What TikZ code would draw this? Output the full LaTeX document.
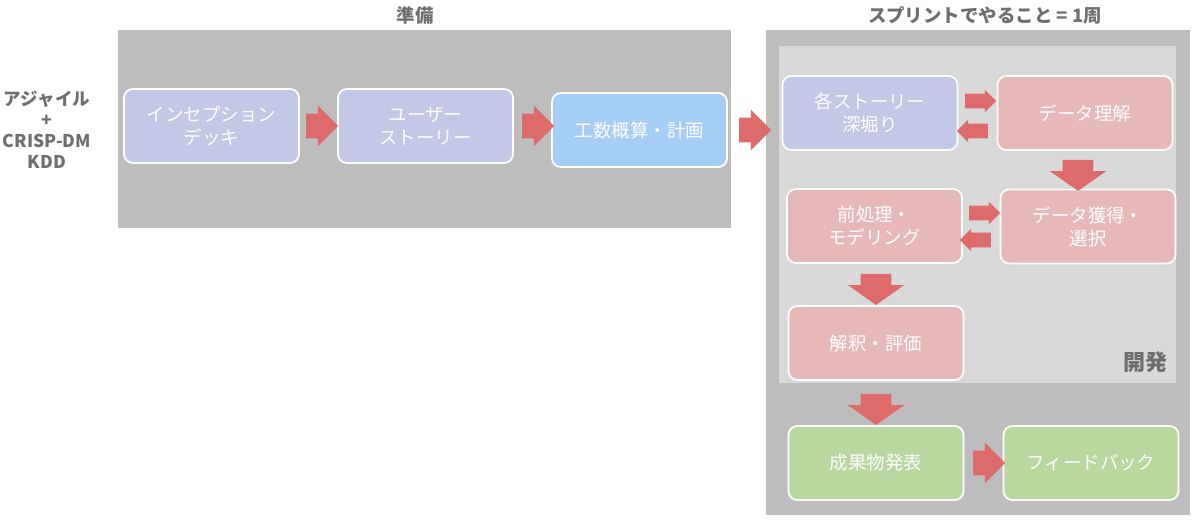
\documentclass[tikz,border=0pt]{standalone}
\usepackage{fontspec}
\newfontfamily\cjk{Noto Sans CJK JP}
\usetikzlibrary{shapes.arrows}
\definecolor{pgray}{HTML}{BDBDBD}
\definecolor{lgray}{HTML}{D9D9D9}
\definecolor{lav}{HTML}{C2C8E6}
\definecolor{lblue}{HTML}{A6CDF5}
\definecolor{pink}{HTML}{E6B8B8}
\definecolor{lgreen}{HTML}{B9D8A0}
\definecolor{ared}{HTML}{DE6B6B}
\definecolor{tgray}{HTML}{6E6E6E}
\begin{document}
\begin{tikzpicture}[x=0.02cm,y=-0.02cm,font=\cjk\fontsize{10.5}{13}\selectfont,
 box/.style={draw=white,line width=1pt,rounded corners=5pt,minimum width=3.5cm,minimum height=1.48cm,text=white,align=center,inner sep=0pt},
 fat/.style={single arrow,fill=ared,draw=none,minimum height=0.64cm,inner xsep=0pt,inner ysep=0.24cm,single arrow head extend=0.16cm,single arrow tip angle=90},
 sm/.style={fat,minimum height=0.62cm,inner ysep=0.14cm,single arrow head extend=0.08cm},
 dn/.style={single arrow,fill=ared,draw=none,minimum height=0.62cm,inner ysep=0pt,inner xsep=0.3cm,single arrow head extend=0.26cm,shape border rotate=270,single arrow tip angle=110},
 ttl/.style={text=tgray,font=\cjk\bfseries\fontsize{10.5}{12}\selectfont,align=center}]
\useasboundingbox (0,0) rectangle (1200,521);
\fill[pgray] (118,30) rectangle (731,228);
\fill[pgray] (766,30) rectangle (1190,515);
\fill[lgray] (779,46) rectangle (1176,383);
\node[ttl] (t1) at (415,15) {準備};
\node[ttl] (t2) at (985,15) {スプリントでやること = 1周};
\node[ttl,font=\cjk\bfseries\fontsize{12.5}{14}\selectfont] (dev) at (1145,362) {開発};
\node[ttl,font=\cjk\bfseries\fontsize{10}{12}\selectfont] (left) at (47,130) {アジャイル\\+\\CRISP-DM\\KDD};
\node[box,fill=lav] (a) at (211.5,126) {インセプション\\デッキ};
\node[box,fill=lav] (b) at (425.5,126) {ユーザー\\ストーリー};
\node[box,fill=lblue] (c) at (639.5,130) {工数概算・計画};
\node[box,fill=lav] (d) at (870,113) {各ストーリー\\深堀り};
\node[box,fill=pink] (e) at (1085,113) {データ理解};
\node[box,fill=pink] (f) at (874.5,226) {前処理・\\モデリング};
\node[box,fill=pink] (g) at (1088,226.5) {データ獲得・\\選択};
\node[box,fill=pink] (h) at (876,343) {解釈・評価};
\node[box,fill=lgreen] (i) at (876,463) {成果物発表};
\node[box,fill=lgreen] (j) at (1091,463) {フィードバック};
\node[fat] (ab) at (316,126) {};
\node[fat] (bc) at (532,126) {};
\node[fat] (cd) at (749,130) {};
\node[sm] (de) at (977,101) {};
\node[sm,shape border rotate=180] (ed) at (976,131) {};
\node[dn] (eg) at (1078,170) {};
\node[sm] (fg) at (981,213) {};
\node[sm,shape border rotate=180] (gf) at (979,240) {};
\node[dn] (fh) at (876,284) {};
\node[dn] (hi) at (876,404) {};
\node[fat] (ij) at (983,463) {};
\end{tikzpicture}
\end{document}
